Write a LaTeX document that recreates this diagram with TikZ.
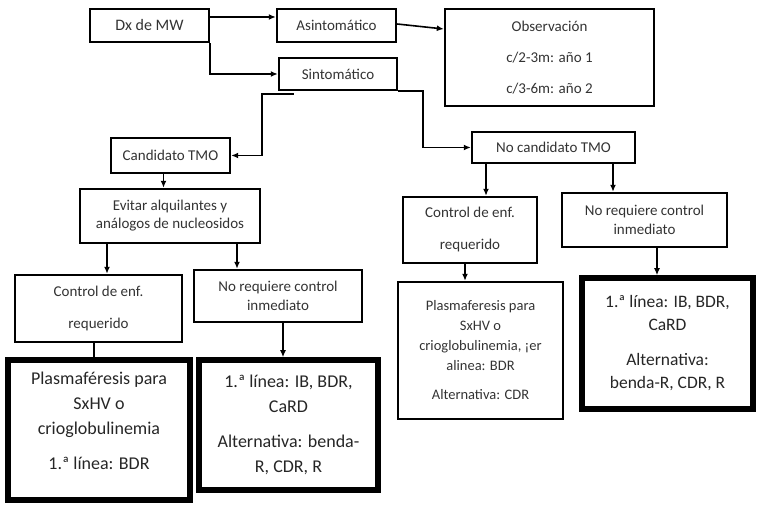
\documentclass[tikz,border=0pt]{standalone}
\usepackage{fontspec}
\setmainfont{Carlito}
\usetikzlibrary{arrows.meta}

\begin{document}
\begin{tikzpicture}[
		x=1pt, y=-1pt,
		->, >={Latex[length=7pt,width=6pt]}, line width=1.6pt,
		box/.style={draw, line width=2.4pt, align=center, inner sep=0pt, text=black!80, font=\fontsize{15}{18}\selectfont},
		bigbox/.style={box, line width=5.5pt, text=black!85, font=\fontsize{18}{25}\selectfont},
		]
		\useasboundingbox (0,0) rectangle (761,510);
		
		% top row
		\node[box, minimum width=119pt, minimum height=33pt, font=\fontsize{16}{18}\selectfont] (dx) at (149.5,25.5) {Dx de MW};
		\node[box, minimum width=119pt, minimum height=33pt] (asin) at (336.5,25.5) {Asintomático};
		\node[box, minimum width=118pt, minimum height=32pt] (sint) at (338,74) {Sintomático};
		\node[box, minimum width=209pt, minimum height=97pt] (obs) at (549.5,57.5) {Observación\\[13pt]c/2-3m: año 1\\[13pt]c/3-6m: año 2};
		
		\draw ([yshift=8.5pt]dx.east) -- ([yshift=8.5pt]asin.west);
		\draw (dx.south east) |- (sint.west);
		\draw ([yshift=1.5pt]asin.east) -- ([yshift=28.5pt]obs.west);
		
		% candidato / no candidato
		\node[box, minimum width=119pt, minimum height=35pt] (cand) at (170.5,155.5) {Candidato TMO};
		\node[box, minimum width=163pt, minimum height=31pt] (nocand) at (553.5,147.5) {No candidato TMO};
		\coordinate (sbl) at ([xshift=16pt,yshift=-3pt]sint.south west);
		\draw (sbl) -- ++(-32,0) |- (cand.east);
		\draw (sint.south east) -- ++(25,0) |- (nocand.west);
		
		% left branch
		\node[box, minimum width=180pt, minimum height=54pt] (evitar) at (170,216) {Evitar alquilantes y\\análogos de nucleosidos};
		\node[box, minimum width=167pt, minimum height=67pt] (ctrlL) at (98.5,308.5) {Control de enf.\\[14pt]requerido};
		\node[box, minimum width=168pt, minimum height=52pt] (noreqL) at (278,296) {No requiere control\\[1pt]inmediato};
		\node[bigbox, minimum width=182pt, minimum height=140pt] (plasL) at (99,430) {Plasmaféresis para\\SxHV o\\crioglobulinemia\\[10pt]1.ª línea: BDR\\[-6pt]\mbox{}};
		\node[bigbox, minimum width=179pt, minimum height=130pt] (lineaL) at (288.5,425) {1.ª línea: IB, BDR,\\CaRD\\[10pt]Alternativa: benda-\\R, CDR, R};
		
		\draw ([xshift=-7pt]cand.south) -- ([xshift=-7pt]cand.south |- evitar.north);
		\draw ([xshift=-63pt]evitar.south) -- ([xshift=-63pt]evitar.south |- ctrlL.north);
		\draw ([xshift=67pt]evitar.south) -- ([xshift=67pt]evitar.south |- noreqL.north);
		\draw[-] ([xshift=-4.5pt]ctrlL.south) -- ([xshift=-4.5pt]ctrlL.south |- plasL.north);
		\draw ([xshift=5pt]noreqL.south) -- ([xshift=5pt]noreqL.south |- lineaL.north);
		
		% right branch
		\node[box, minimum width=134pt, minimum height=66pt] (ctrlR) at (470,230) {Control de enf.\\[14pt]requerido};
		\node[box, minimum width=165pt, minimum height=54pt] (noreqR) at (644.5,220) {No requiere control\\[1pt]inmediato};
		\node[box, minimum width=165pt, minimum height=137pt, font=\fontsize{14.5}{20}\selectfont] (plasR) at (480.5,350.5) {Plasmaferesis para\\SxHV o\\crioglobulinemia, ¡er\\alinea: BDR\\[9pt]Alternativa: CDR};
		\node[bigbox, minimum width=171pt, minimum height=131pt, font=\fontsize{17.5}{23}\selectfont] (lineaR) at (667.5,343.5) {1.ª línea: IB, BDR,\\CaRD\\[12pt]Alternativa:\\benda-R, CDR, R};
		
		\draw ([xshift=-67.5pt]nocand.south) -- ([xshift=-67.5pt]nocand.south |- ctrlR.north);
		\draw ([xshift=59.5pt]nocand.south) -- ([xshift=59.5pt]nocand.south |- noreqR.north);
		\draw ([xshift=-5pt]ctrlR.south) -- ([xshift=-5pt]ctrlR.south |- plasR.north);
		\draw ([xshift=12.5pt]noreqR.south) -- ([xshift=12.5pt]noreqR.south |- lineaR.north);
		
	\end{tikzpicture}
\end{document}
